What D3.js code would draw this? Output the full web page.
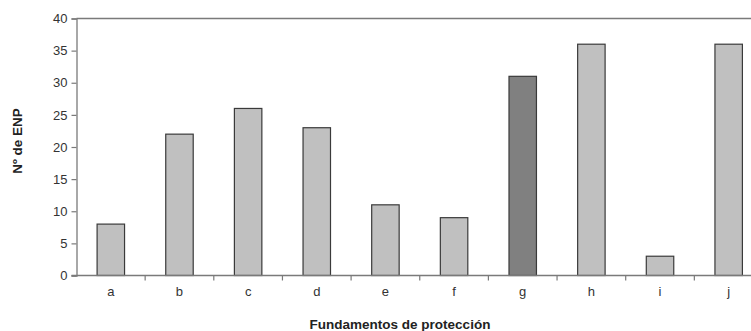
<!DOCTYPE html>
<html><head><meta charset="utf-8">
<script src="https://cdn.jsdelivr.net/npm/d3@7"></script>
<style>body{margin:0;background:#fff}svg{display:block}text{font-family:"Liberation Sans",Arial,sans-serif}</style>
</head><body><svg id="c" width="751" height="331"></svg>
<script>
const categories = ["a","b","c","d","e","f","g","h","i","j"];
const values = [8,22,26,23,11,9,31,36,3,36];
const highlighted = ["g"];
const yTicks = [0,5,10,15,20,25,30,35,40];
const xTitle = "Fundamentos de protección";
const yTitle = "Nº de ENP";

const svg = d3.select("#c");
const L = 76.5, T = 18.5, B = 275.5, band = 68.65;
const R = L + band * categories.length;
const x = d3.scaleBand().domain(categories).range([L, R]).paddingInner(0.6).paddingOuter(0.3);
const y = d3.scaleLinear().domain([0, 40]).range([B, T]);

// top border
svg.append("line").attr("x1", L).attr("x2", R).attr("y1", T).attr("y2", T)
  .attr("stroke", "#7a7a7a").attr("stroke-width", 1.3);

// bars
svg.selectAll("rect.bar").data(categories).join("rect")
  .attr("x", d => x(d)).attr("width", x.bandwidth())
  .attr("y", (d, i) => y(values[i])).attr("height", (d, i) => B - y(values[i]))
  .attr("fill", d => highlighted.includes(d) ? "#808080" : "#c0c0c0")
  .attr("stroke", "#3a3a3a").attr("stroke-width", 1.2);

// y axis
const ya = svg.append("g").attr("transform", `translate(${L},0)`)
  .call(d3.axisLeft(y).tickValues(yTicks).tickSize(5).tickPadding(4));
ya.select(".domain").attr("stroke", "#7a7a7a").attr("stroke-width", 1.3);
ya.selectAll(".tick line").attr("stroke", "#7a7a7a").attr("stroke-width", 1.2);
ya.selectAll(".tick text").attr("font-size", 13).attr("fill", "#333").attr("font-family", "Liberation Sans, Arial, sans-serif");

// x axis
const xa = svg.append("g").attr("transform", `translate(0,${B})`)
  .call(d3.axisBottom(x).tickSize(0).tickPadding(11));
xa.select(".domain").remove();
xa.selectAll(".tick text").attr("font-size", 13).attr("fill", "#333").attr("font-family", "Liberation Sans, Arial, sans-serif");
svg.append("line").attr("x1", L - 5).attr("x2", R).attr("y1", B).attr("y2", B)
  .attr("stroke", "#7a7a7a").attr("stroke-width", 1.3);
// category separator ticks
const seps = categories.map((d, i) => L + band * (i + 1));
svg.selectAll("line.sep").data(seps).join("line")
  .attr("x1", d => d).attr("x2", d => d).attr("y1", B).attr("y2", B + 5)
  .attr("stroke", "#7a7a7a").attr("stroke-width", 1.2);

// titles
svg.append("text").attr("x", 400).attr("y", 329).attr("text-anchor", "middle")
  .attr("font-size", 13.5).attr("font-weight", "bold").attr("fill", "#222").text(xTitle);
svg.append("text").attr("transform", "translate(22,141) rotate(-90)").attr("text-anchor", "middle")
  .attr("font-size", 13.5).attr("font-weight", "bold").attr("fill", "#222").text(yTitle);
</script></body></html>
